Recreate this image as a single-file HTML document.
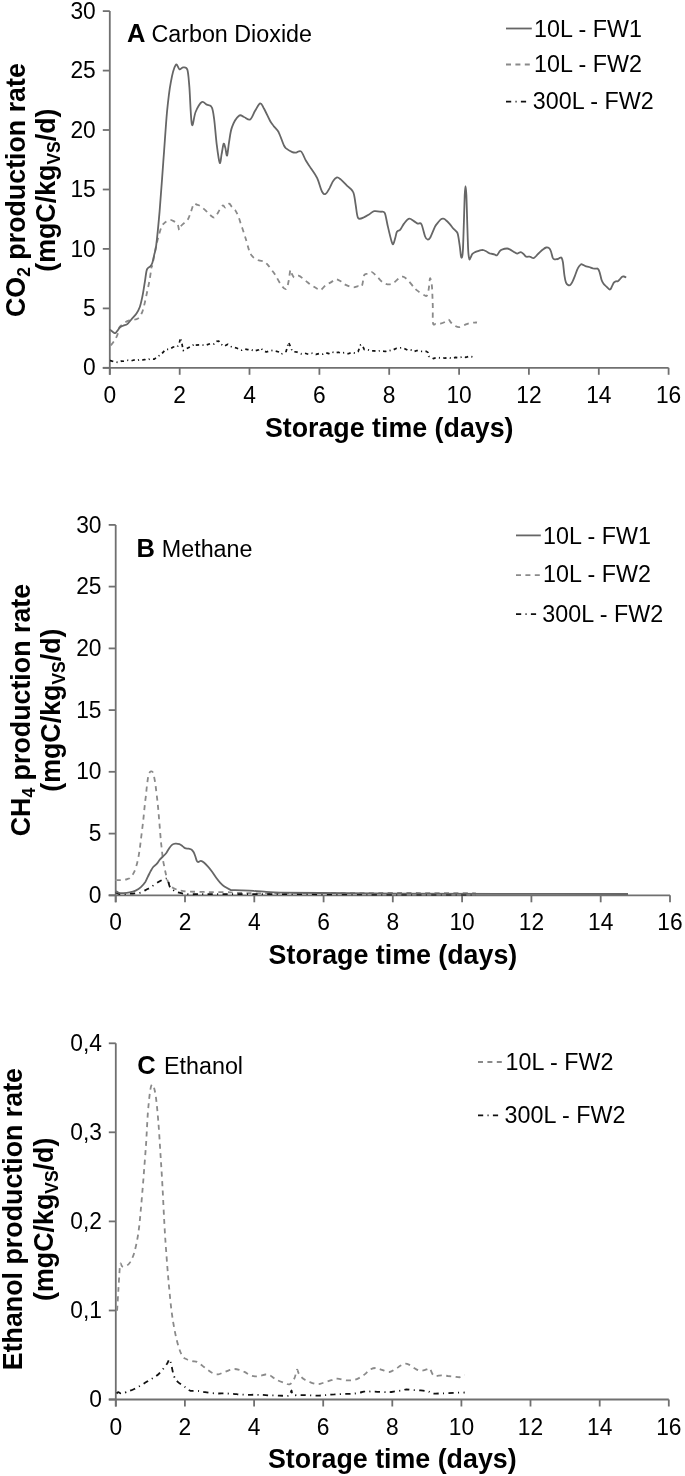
<!DOCTYPE html>
<html><head><meta charset="utf-8"><style>
html,body{margin:0;padding:0;background:#fff;}
svg{display:block;filter:grayscale(1);}
text{font-family:"Liberation Sans", sans-serif;}
</style></head><body>
<svg width="685" height="1476" viewBox="0 0 685 1476">
<g stroke="#707070" stroke-width="1.8" fill="none">
<path d="M109.8,11.1 V374.8"/>
<path d="M102.8,367.8 H668.6"/>
<path d="M102.8,367.8 H109.8"/>
<path d="M102.8,308.4 H109.8"/>
<path d="M102.8,248.9 H109.8"/>
<path d="M102.8,189.5 H109.8"/>
<path d="M102.8,130 H109.8"/>
<path d="M102.8,70.6 H109.8"/>
<path d="M102.8,11.1 H109.8"/>
<path d="M109.8,367.8 V374.8"/>
<path d="M179.7,367.8 V374.8"/>
<path d="M249.5,367.8 V374.8"/>
<path d="M319.4,367.8 V374.8"/>
<path d="M389.2,367.8 V374.8"/>
<path d="M459.1,367.8 V374.8"/>
<path d="M528.9,367.8 V374.8"/>
<path d="M598.8,367.8 V374.8"/>
<path d="M668.6,367.8 V374.8"/>
</g>
<text transform="translate(95.8,375.4) scale(1,1.08)" font-size="22.8" text-anchor="end" fill="#000000">0</text>
<text transform="translate(95.8,316) scale(1,1.08)" font-size="22.8" text-anchor="end" fill="#000000">5</text>
<text transform="translate(95.8,256.5) scale(1,1.08)" font-size="22.8" text-anchor="end" fill="#000000">10</text>
<text transform="translate(95.8,197.1) scale(1,1.08)" font-size="22.8" text-anchor="end" fill="#000000">15</text>
<text transform="translate(95.8,137.6) scale(1,1.08)" font-size="22.8" text-anchor="end" fill="#000000">20</text>
<text transform="translate(95.8,78.2) scale(1,1.08)" font-size="22.8" text-anchor="end" fill="#000000">25</text>
<text transform="translate(95.8,18.7) scale(1,1.08)" font-size="22.8" text-anchor="end" fill="#000000">30</text>
<text transform="translate(109.8,403.2) scale(1,1.08)" font-size="22.8" text-anchor="middle" fill="#000000">0</text>
<text transform="translate(179.7,403.2) scale(1,1.08)" font-size="22.8" text-anchor="middle" fill="#000000">2</text>
<text transform="translate(249.5,403.2) scale(1,1.08)" font-size="22.8" text-anchor="middle" fill="#000000">4</text>
<text transform="translate(319.4,403.2) scale(1,1.08)" font-size="22.8" text-anchor="middle" fill="#000000">6</text>
<text transform="translate(389.2,403.2) scale(1,1.08)" font-size="22.8" text-anchor="middle" fill="#000000">8</text>
<text transform="translate(459.1,403.2) scale(1,1.08)" font-size="22.8" text-anchor="middle" fill="#000000">10</text>
<text transform="translate(528.9,403.2) scale(1,1.08)" font-size="22.8" text-anchor="middle" fill="#000000">12</text>
<text transform="translate(598.8,403.2) scale(1,1.08)" font-size="22.8" text-anchor="middle" fill="#000000">14</text>
<text transform="translate(668.6,403.2) scale(1,1.08)" font-size="22.8" text-anchor="middle" fill="#000000">16</text>
<text transform="translate(389.2,436.9) scale(1,1.01)" font-size="26.8" text-anchor="middle" font-weight="bold" fill="#000000">Storage time (days)</text>
<text transform="translate(127,41.6) scale(1,1.04)" font-weight="bold" font-size="25.5" fill="#000000">A</text>
<text transform="translate(151.4,41.6) scale(1,1.0)" font-size="23.3" fill="#000000">Carbon Dioxide</text>
<g transform="translate(25.1,190.1) rotate(-90) scale(1,1.0)" font-weight="bold" font-size="26.8" fill="#000000">
<text x="0" y="0" text-anchor="middle">CO<tspan font-size="17.5" dy="5">2</tspan><tspan dy="-5"> production rate</tspan></text>
<text x="0" y="29.9" text-anchor="middle">(mgC/kg<tspan font-size="17.5" dy="5">VS</tspan><tspan dy="-5">/d)</tspan></text>
</g>
<path d="M506,28.5 H531.8" stroke="#666666" stroke-width="1.8" fill="none"/>
<text transform="translate(534,36.5) scale(1,1.05)" font-size="23.3" fill="#000000">10L - FW1</text>
<path d="M506,64.5 H531.5" stroke="#8a8a8a" stroke-width="1.8" fill="none" stroke-dasharray="5,4.4"/>
<text transform="translate(534,72.4) scale(1,1.05)" font-size="23.3" fill="#000000">10L - FW2</text>
<path d="M506,101.7 H527.5" stroke="#111111" stroke-width="1.8" fill="none" stroke-dasharray="5.2,4.3,1.1,4.3"/>
<text transform="translate(532.8,108.9) scale(1,1.05)" font-size="23.3" fill="#000000">300L - FW2</text>
<g stroke="#707070" stroke-width="1.8" fill="none">
<path d="M115.7,524.9 V902.3"/>
<path d="M108.7,895.3 H670"/>
<path d="M108.7,895.3 H115.7"/>
<path d="M108.7,833.6 H115.7"/>
<path d="M108.7,771.8 H115.7"/>
<path d="M108.7,710.1 H115.7"/>
<path d="M108.7,648.4 H115.7"/>
<path d="M108.7,586.6 H115.7"/>
<path d="M108.7,524.9 H115.7"/>
<path d="M115.7,895.3 V902.3"/>
<path d="M185,895.3 V902.3"/>
<path d="M254.3,895.3 V902.3"/>
<path d="M323.6,895.3 V902.3"/>
<path d="M392.8,895.3 V902.3"/>
<path d="M462.1,895.3 V902.3"/>
<path d="M531.4,895.3 V902.3"/>
<path d="M600.7,895.3 V902.3"/>
<path d="M670,895.3 V902.3"/>
</g>
<text transform="translate(101.5,902.9) scale(1,1.08)" font-size="22.8" text-anchor="end" fill="#000000">0</text>
<text transform="translate(101.5,841.2) scale(1,1.08)" font-size="22.8" text-anchor="end" fill="#000000">5</text>
<text transform="translate(101.5,779.4) scale(1,1.08)" font-size="22.8" text-anchor="end" fill="#000000">10</text>
<text transform="translate(101.5,717.7) scale(1,1.08)" font-size="22.8" text-anchor="end" fill="#000000">15</text>
<text transform="translate(101.5,656) scale(1,1.08)" font-size="22.8" text-anchor="end" fill="#000000">20</text>
<text transform="translate(101.5,594.2) scale(1,1.08)" font-size="22.8" text-anchor="end" fill="#000000">25</text>
<text transform="translate(101.5,532.5) scale(1,1.08)" font-size="22.8" text-anchor="end" fill="#000000">30</text>
<text transform="translate(115.7,929.9) scale(1,1.08)" font-size="22.8" text-anchor="middle" fill="#000000">0</text>
<text transform="translate(185,929.9) scale(1,1.08)" font-size="22.8" text-anchor="middle" fill="#000000">2</text>
<text transform="translate(254.3,929.9) scale(1,1.08)" font-size="22.8" text-anchor="middle" fill="#000000">4</text>
<text transform="translate(323.6,929.9) scale(1,1.08)" font-size="22.8" text-anchor="middle" fill="#000000">6</text>
<text transform="translate(392.8,929.9) scale(1,1.08)" font-size="22.8" text-anchor="middle" fill="#000000">8</text>
<text transform="translate(462.1,929.9) scale(1,1.08)" font-size="22.8" text-anchor="middle" fill="#000000">10</text>
<text transform="translate(531.4,929.9) scale(1,1.08)" font-size="22.8" text-anchor="middle" fill="#000000">12</text>
<text transform="translate(600.7,929.9) scale(1,1.08)" font-size="22.8" text-anchor="middle" fill="#000000">14</text>
<text transform="translate(670,929.9) scale(1,1.08)" font-size="22.8" text-anchor="middle" fill="#000000">16</text>
<text transform="translate(392.9,963.6) scale(1,1.01)" font-size="26.8" text-anchor="middle" font-weight="bold" fill="#000000">Storage time (days)</text>
<text transform="translate(136.5,557.1) scale(1,1.04)" font-weight="bold" font-size="25.5" fill="#000000">B</text>
<text transform="translate(161.8,557.1) scale(1,1.0)" font-size="23.3" fill="#000000">Methane</text>
<g transform="translate(30.1,710.1) rotate(-90) scale(1,1.0)" font-weight="bold" font-size="26.8" fill="#000000">
<text x="0" y="0" text-anchor="middle">CH<tspan font-size="17.5" dy="5">4</tspan><tspan dy="-5"> production rate</tspan></text>
<text x="0" y="29.9" text-anchor="middle">(mgC/kg<tspan font-size="17.5" dy="5">VS</tspan><tspan dy="-5">/d)</tspan></text>
</g>
<path d="M516,535.4 H540.8" stroke="#666666" stroke-width="1.8" fill="none"/>
<text transform="translate(543,543.5) scale(1,1.05)" font-size="23.3" fill="#000000">10L - FW1</text>
<path d="M516,575.2 H540.8" stroke="#8a8a8a" stroke-width="1.8" fill="none" stroke-dasharray="5,4.4"/>
<text transform="translate(543,582.4) scale(1,1.05)" font-size="23.3" fill="#000000">10L - FW2</text>
<path d="M516,614.2 H537" stroke="#111111" stroke-width="1.8" fill="none" stroke-dasharray="5.2,4.3,1.1,4.3"/>
<text transform="translate(542.3,621.9) scale(1,1.05)" font-size="23.3" fill="#000000">300L - FW2</text>
<g stroke="#707070" stroke-width="1.8" fill="none">
<path d="M115.8,1043.3 V1406.5"/>
<path d="M108.8,1399.5 H668.8"/>
<path d="M108.8,1399.5 H115.8"/>
<path d="M108.8,1310.5 H115.8"/>
<path d="M108.8,1221.4 H115.8"/>
<path d="M108.8,1132.3 H115.8"/>
<path d="M108.8,1043.3 H115.8"/>
<path d="M115.8,1399.5 V1406.5"/>
<path d="M184.9,1399.5 V1406.5"/>
<path d="M254.1,1399.5 V1406.5"/>
<path d="M323.2,1399.5 V1406.5"/>
<path d="M392.3,1399.5 V1406.5"/>
<path d="M461.4,1399.5 V1406.5"/>
<path d="M530.5,1399.5 V1406.5"/>
<path d="M599.7,1399.5 V1406.5"/>
<path d="M668.8,1399.5 V1406.5"/>
</g>
<text transform="translate(102,1407.1) scale(1,1.08)" font-size="22.8" text-anchor="end" fill="#000000">0</text>
<text transform="translate(102,1318) scale(1,1.08)" font-size="22.8" text-anchor="end" fill="#000000">0,1</text>
<text transform="translate(102,1229) scale(1,1.08)" font-size="22.8" text-anchor="end" fill="#000000">0,2</text>
<text transform="translate(102,1139.9) scale(1,1.08)" font-size="22.8" text-anchor="end" fill="#000000">0,3</text>
<text transform="translate(102,1050.9) scale(1,1.08)" font-size="22.8" text-anchor="end" fill="#000000">0,4</text>
<text transform="translate(115.8,1434.7) scale(1,1.08)" font-size="22.8" text-anchor="middle" fill="#000000">0</text>
<text transform="translate(184.9,1434.7) scale(1,1.08)" font-size="22.8" text-anchor="middle" fill="#000000">2</text>
<text transform="translate(254.1,1434.7) scale(1,1.08)" font-size="22.8" text-anchor="middle" fill="#000000">4</text>
<text transform="translate(323.2,1434.7) scale(1,1.08)" font-size="22.8" text-anchor="middle" fill="#000000">6</text>
<text transform="translate(392.3,1434.7) scale(1,1.08)" font-size="22.8" text-anchor="middle" fill="#000000">8</text>
<text transform="translate(461.4,1434.7) scale(1,1.08)" font-size="22.8" text-anchor="middle" fill="#000000">10</text>
<text transform="translate(530.5,1434.7) scale(1,1.08)" font-size="22.8" text-anchor="middle" fill="#000000">12</text>
<text transform="translate(599.7,1434.7) scale(1,1.08)" font-size="22.8" text-anchor="middle" fill="#000000">14</text>
<text transform="translate(668.8,1434.7) scale(1,1.08)" font-size="22.8" text-anchor="middle" fill="#000000">16</text>
<text transform="translate(392.3,1468) scale(1,1.01)" font-size="26.8" text-anchor="middle" font-weight="bold" fill="#000000">Storage time (days)</text>
<text transform="translate(137.2,1073.8) scale(1,1.04)" font-weight="bold" font-size="25.5" fill="#000000">C</text>
<text transform="translate(164,1073.8) scale(1,1.0)" font-size="23.3" fill="#000000">Ethanol</text>
<g transform="translate(21.8,1219.1) rotate(-90) scale(1,1.0)" font-weight="bold" font-size="26.8" fill="#000000">
<text x="0" y="0" text-anchor="middle">Ethanol production rate</text>
<text x="-0.2" y="31.2" text-anchor="middle">(mgC/kg<tspan font-size="17.5" dy="5">VS</tspan><tspan dy="-5">/d)</tspan></text>
</g>
<path d="M478,1062 H503" stroke="#8a8a8a" stroke-width="1.8" fill="none" stroke-dasharray="5,4.4"/>
<text transform="translate(505.6,1069.8) scale(1,1.05)" font-size="23.3" fill="#000000">10L - FW2</text>
<path d="M478,1115.3 H499" stroke="#111111" stroke-width="1.8" fill="none" stroke-dasharray="5.2,4.3,1.1,4.3"/>
<text transform="translate(504.6,1122.8) scale(1,1.05)" font-size="23.3" fill="#000000">300L - FW2</text>
<path d="M110.5,345.3 C110.6,345.1 110.9,345.3 111.6,344.4 C112.3,343.5 113.9,341.4 114.9,339.8 C115.9,338.2 116.7,336.7 117.5,334.6 C118.3,332.5 118.3,329.3 119.5,327.3 C120.7,325.3 123.1,323.9 124.7,322.7 C126.3,321.5 127.6,320.9 129.3,320.4 C131.1,319.9 133.5,320 135.2,319.5 C136.8,319 138,318.8 139.2,317.5 C140.4,316.2 141.5,313.8 142.4,311.6 C143.3,309.4 143.6,307.6 144.4,304.4 C145.2,301.2 146.1,296.7 147,292.5 C147.9,288.3 148.9,283.8 149.7,279.4 C150.5,275 151.2,268.6 151.6,266.3 C152,264.1 151.7,267.9 152.2,265.9 C152.7,263.9 153.7,257.8 154.4,254.2 C155.1,250.5 155.9,247.2 156.6,244 C157.3,240.8 158,238.2 158.8,235.3 C159.7,232.4 160.7,228.6 161.7,226.5 C162.7,224.4 163.3,223.9 164.6,222.8 C165.9,221.7 168.1,220.1 169.7,219.9 C171.3,219.7 172.8,220.7 174.1,221.4 C175.4,222.1 176.8,222.9 177.7,224.3 C178.5,225.8 178.7,229.7 179.2,230.1 C179.7,230.5 179.8,227.7 180.7,226.5 C181.5,225.3 183.1,224 184.3,222.8 C185.5,221.6 186.9,221 188,219.2 C189.1,217.4 189.9,214.4 190.9,211.9 C191.9,209.4 192.8,205.1 193.8,203.9 C194.8,202.7 195.6,204.2 196.7,204.6 C197.8,205 198.9,205.1 200.4,206.1 C201.9,207.1 203.9,208.9 205.5,210.4 C207.1,211.9 208.5,213.6 209.9,214.8 C211.3,216 213,217.8 214.2,217.7 C215.4,217.6 216.2,215.5 217.2,214.1 C218.2,212.7 219.1,210.5 220.1,209 C221.1,207.5 222.2,205.6 223,205.3 C223.8,205.1 224.5,207.6 225.2,207.5 C225.9,207.4 226.7,205.2 227.4,204.6 C228.1,204 228.9,203.5 229.6,203.9 C230.3,204.3 230.8,205.7 231.8,206.8 C232.8,207.9 234.3,208.8 235.4,210.4 C236.5,212 237.3,213.9 238.3,216.3 C239.3,218.7 240.2,222.1 241.2,225 C242.2,227.9 243.3,231.1 244.2,233.8 C245.1,236.5 245.7,238.7 246.4,241.1 C247.1,243.5 247.9,246.4 248.5,248.4 C249.1,250.4 249.7,252 250,252.8 C250.3,253.6 249.5,252.6 250.2,253.5 C250.8,254.3 252.5,256.8 253.9,257.9 C255.4,259.1 257.2,259.8 258.9,260.4 C260.5,261 262.4,260.7 263.8,261.4 C265.3,262.1 266.3,263.3 267.6,264.6 C268.8,266 270,267.9 271.3,269.6 C272.5,271.2 273.4,272 275,274.5 C276.6,277.1 279.3,282.5 281.2,284.9 C283,287.4 284.9,289.8 286.1,289.1 C287.4,288.5 287.9,284.4 288.6,281.2 C289.3,278 289.8,271.3 290.4,270 C290.9,268.8 291.2,272.5 291.8,273.8 C292.5,275 293.2,277.2 294.3,277.5 C295.4,277.8 296.8,275.3 298.5,275.7 C300.3,276.2 302.7,278.4 304.7,280 C306.8,281.5 308.9,283.5 310.9,284.9 C313,286.4 315.5,287.8 317.2,288.7 C318.8,289.5 319.4,290.5 320.9,289.9 C322.3,289.3 324.2,286.2 325.8,284.9 C327.5,283.7 329.1,283.4 330.8,282.4 C332.5,281.5 334.1,279.4 335.8,279.2 C337.4,279 339.1,280.3 340.7,281.2 C342.4,282.2 343.6,283.9 345.7,284.9 C347.8,286 351.1,287.2 353.1,287.4 C355.2,287.6 356.7,286.4 358.1,286.2 C359.5,286 360.8,288 361.8,286.2 C362.9,284.3 363.3,277.1 364.3,275 C365.3,272.9 366.8,274.3 368,273.8 C369.3,273.3 370.3,271.6 371.8,272 C373.2,272.4 374.9,274.5 376.7,276.2 C378.6,278 380.9,281.1 382.9,282.4 C385,283.8 387.3,284.4 389.1,284.4 C391,284.4 392.4,283.5 394.1,282.4 C395.7,281.4 397.6,279.2 399.1,278.2 C400.5,277.3 401.3,276.4 402.8,276.7 C404.2,277 405.9,278.2 407.7,280 C409.6,281.7 412.4,285.7 413.9,287.4 C415.5,289.2 415.3,289.1 417,290.4 C418.7,291.7 422.4,294.1 424,295 C425.6,295.9 426.1,296.6 426.9,295.6 C427.7,294.6 428.2,292 428.7,289.2 C429.2,286.4 429.5,280.1 429.9,278.7 C430.3,277.3 430.6,279.6 431,281 C431.4,282.4 431.8,284.6 432,286.9 C432.2,289.2 432.3,291.7 432.4,295 C432.5,298.3 432.7,302 432.8,306.7 C432.9,311.4 432.5,320.2 433,323.1 C433.5,326 434.5,323.9 435.7,324 C436.9,324.1 438.8,324.1 440.4,323.7 C441.9,323.3 443.6,322.6 445,321.9 C446.4,321.2 447.5,319.5 448.5,319.6 C449.5,319.7 449.9,321.5 450.9,322.5 C451.9,323.5 453,324.6 454.4,325.4 C455.8,326.2 457.4,327.3 459.1,327.2 C460.9,327.1 463.1,325.5 464.9,324.8 C466.6,324.1 467.8,323.5 469.6,323.1 C471.5,322.7 474.8,322.6 476,322.5 C477.2,322.4 476.8,322.7 477,322.7" stroke="#8a8a8a" stroke-width="1.8" fill="none" stroke-dasharray="5,4.4"/>
<path d="M110,360.6 L110.3,360.6 L114.2,361.8 L118.1,362.4 L121.4,361.1 L124.7,361.3 L128,360.3 L131.3,360.8 L133.9,360 L136.6,360.6 L139.2,359.8 L141.8,360.2 L144.4,359.5 L147.1,360.1 L149.7,358.9 L154.3,359.2 L157.6,356.6 L161.5,354.1 L165.4,349.6 L169.4,349.2 L173.3,347 L177.3,346.8 L179.2,343.6 L180.5,337.8 L181.9,343.4 L183.2,350.6 L186.5,348.7 L190.4,346.8 L195,343.8 L195.6,345.1 L200.5,344.8 L205.5,345.3 L210.5,343.6 L214.2,344 L216.7,341.3 L218.7,341 L220.4,343.7 L224.1,346.3 L227.8,344.3 L231.6,346.9 L236.5,348 L241.5,350.2 L244.6,349 L247.7,349.6 L250.8,349.3 L253.9,351.1 L258.9,349.7 L260.9,348.2 L262.6,350.1 L266.3,352 L271.3,350.4 L275,350.9 L278.1,351.7 L281.2,354.1 L286.1,351.4 L288.6,342.3 L289.9,345.3 L292.3,351.4 L297.3,352.2 L301,353.8 L304.7,353.2 L308.5,354.3 L312.2,353.3 L315.9,354.4 L319.6,353.4 L322.7,354.1 L325.8,352.8 L328.9,353.6 L332,352 L335.1,353.1 L338.2,352.2 L341.4,353.2 L344.5,352.6 L348.2,353.7 L351.9,352.5 L355,353.2 L358.1,351.6 L360.6,344.9 L362.3,345.2 L364.3,349.7 L368,349.8 L371.1,351 L374.2,350.9 L377.3,351.4 L380.4,350.6 L385.4,351.5 L388.5,350.4 L391.6,350.6 L396.6,348.3 L401.5,347.7 L405.3,349 L408.4,350.6 L411.5,350.1 L414.2,351.5 L417,350.5 L421.7,351.4 L426.4,351.3 L428.1,352.7 L428.7,356.3 L433.4,358.6 L436.3,357.4 L439.2,357.8 L442.1,357.4 L445,358.2 L448.5,357.5 L452,358.4 L455.5,357.4 L459,357.7 L462.6,356.8 L466.1,357.3 L469.6,356.2 L473.1,357.1 L474.8,356.7" stroke="#111111" stroke-width="1.7" fill="none" stroke-dasharray="3.4,3.3,1.1,3.3" stroke-linejoin="round"/>
<path d="M110,330.4 C110,330.3 109.8,329.7 110.3,330 C110.8,330.3 112.1,331.4 112.9,331.9 C113.7,332.4 114.4,333.4 115.2,333.2 C116,333 116.7,331.6 117.5,330.6 C118.3,329.6 119.1,328.1 120.1,327.3 C121.1,326.5 122.2,326.1 123.4,325.6 C124.6,325.1 126,325.1 127.3,324.1 C128.6,323.1 129.8,321.3 131.3,319.5 C132.8,317.7 135.1,315.6 136.5,313.5 C137.9,311.4 138.8,309.8 139.8,307 C140.8,304.2 141.6,300.2 142.4,296.5 C143.2,292.8 143.7,288.9 144.4,284.7 C145.1,280.5 145.9,274.2 146.4,271.5 C146.9,268.8 147,269.1 147.7,268.2 C148.3,267.3 149.5,267.2 150.3,266.3 C151.1,265.4 151.6,265 152.3,263 C153,261 153.7,257.4 154.3,254.4 C155,251.5 155.3,252.5 156.2,245.3 C157.1,238.1 158.4,225.2 159.6,211.3 C160.8,197.3 162.1,178.2 163.3,161.7 C164.6,145.1 165.8,125.3 167,112 C168.3,98.8 169.3,90.1 170.8,82.3 C172.2,74.4 174.3,67 175.7,64.9 C177.2,62.7 178.2,68.9 179.5,69.4 C180.7,69.8 181.9,67.3 183.2,67.4 C184.5,67.5 186.4,66.5 187.4,69.8 C188.4,73.2 188.6,78.1 189.4,87.2 C190.1,96.3 190.8,120.3 191.9,124.4 C192.9,128.6 193.9,115.8 195.6,112 C197.2,108.3 199.9,103.3 201.8,102.1 C203.6,100.9 205.1,103.8 206.8,104.6 C208.4,105.4 210.5,104.6 211.7,107.1 C213,109.5 213.4,113.3 214.2,119.5 C215,125.7 215.8,137 216.7,144.3 C217.6,151.5 218.8,161.2 219.7,162.9 C220.5,164.5 221,157.4 221.6,154.2 C222.3,151 223,144.8 223.6,143.8 C224.2,142.8 224.8,146.1 225.4,148 C225.9,150 226.5,156.5 227.1,155.5 C227.7,154.4 228.3,146.6 229.1,141.8 C229.9,137 230.4,131.3 232.1,126.9 C233.7,122.6 237,117.4 239,115.8 C241,114.1 242.1,116.4 244,117 C245.8,117.6 248.3,120.5 250.2,119.5 C252,118.4 253.5,113.5 255.1,110.8 C256.8,108.1 258.7,103.8 260.1,103.3 C261.6,102.9 262.2,105.4 263.8,108.3 C265.5,111.2 268.4,117.8 270,120.7 C271.7,123.7 272.3,124.1 273.7,126.1 C275.2,128 277,129.2 278.7,132.3 C280.3,135.4 282.4,142 283.6,144.7 C284.9,147.4 284.7,147.2 286.1,148.4 C287.6,149.6 290.7,151.4 292.3,152.1 C294,152.8 294.6,152.7 296.1,152.6 C297.5,152.5 299.4,150 301,151.4 C302.7,152.7 304.3,158 306,160.8 C307.6,163.6 309.1,165.4 310.9,168.3 C312.8,171.2 315.3,174.3 317.2,178.2 C319,182.1 320.7,189.2 322.1,191.8 C323.6,194.5 324.6,194.5 325.8,193.8 C327.1,193.2 328.3,190.3 329.6,188.1 C330.8,185.9 332,182.5 333.3,180.7 C334.5,178.9 335.8,177.7 337,177.4 C338.2,177.2 339.1,178.1 340.7,179.4 C342.4,180.8 344.9,183.6 346.9,185.6 C349,187.7 351.7,188.7 353.1,191.8 C354.6,194.9 354.8,199.9 355.6,204.3 C356.4,208.6 356.7,215.8 358.1,217.9 C359.5,220.1 362.4,217.8 364.3,217.2 C366.2,216.5 367.6,215.2 369.3,214.2 C370.9,213.2 372.4,211.6 374.2,211.2 C376.1,210.8 378.7,211.4 380.4,211.7 C382.2,212 383.4,210.5 384.7,212.9 C385.9,215.4 386.7,221.8 387.9,226.6 C389,231.4 390.7,238.6 391.6,241.5 C392.5,244.4 392.7,244.6 393.3,244 C394,243.4 394.7,239.8 395.3,237.8 C395.9,235.7 396.2,232.9 397.1,231.6 C397.9,230.2 399.1,230.9 400.3,229.6 C401.5,228.3 402.6,225.4 404,223.6 C405.5,221.8 407.3,219.1 409,218.7 C410.6,218.2 412.5,220.3 413.9,221.1 C415.4,222 416.4,223.1 417.7,223.6 C418.9,224.1 420.1,222 421.4,224.1 C422.6,226.3 424.1,234 425.1,236.5 C426.1,239.1 426.8,239.3 427.6,239.5 C428.4,239.7 428.8,239.9 430.1,237.8 C431.3,235.6 433.8,229.1 435,226.6 C436.3,224.1 436.8,224.1 437.7,222.9 C438.6,221.7 439.6,220.3 440.5,219.6 C441.4,218.9 442.3,218.6 443.2,218.7 C444.1,218.8 444.9,219.3 445.9,220.2 C447,221 448.4,222.5 449.6,223.8 C450.8,225.2 452.2,227.2 453.2,228.4 C454.3,229.6 455.2,230.2 456,231.1 C456.7,232 457.2,231.6 457.8,233.9 C458.4,236.1 459.1,241.2 459.6,244.8 C460.2,248.5 460.5,253.7 460.9,255.8 C461.3,257.8 461.7,258.1 462,257.2 C462.3,256.3 462.6,255.7 462.9,250.3 C463.2,244.9 463.5,233.9 463.8,224.7 C464.1,215.6 464.5,202 464.7,195.5 C465,189.1 465.2,186.1 465.5,186.1 C465.7,186.1 466.1,189.1 466.4,195.5 C466.7,202 467,215.6 467.3,224.7 C467.6,233.9 467.9,244.6 468.2,250.3 C468.5,256 468.9,257.8 469.3,259 C469.7,260.3 470.1,258.4 470.6,257.6 C471.1,256.7 471.6,254.8 472.4,253.9 C473.2,253 474.1,252.6 475.1,252.1 C476.2,251.6 477.6,251.2 478.8,250.8 C480,250.5 481.2,249.9 482.4,249.9 C483.7,250 484.9,250.6 486.1,251.2 C487.3,251.8 488.4,252.9 489.7,253.4 C491.1,253.9 493.1,254 494.3,254.3 C495.5,254.6 496.1,255.7 497,255.2 C498,254.7 498.9,252.2 499.8,251.2 C500.7,250.2 501.3,249.8 502.5,249.4 C503.7,248.9 505.9,248.5 507.1,248.5 C508.3,248.5 508.8,248.8 509.8,249.4 C510.9,249.9 512.3,251 513.5,251.7 C514.7,252.4 515.9,253.5 517.1,253.6 C518.3,253.6 519.7,252 520.8,252.1 C521.8,252.2 522.6,253.2 523.5,253.9 C524.4,254.7 525.2,256.2 526.2,256.7 C527.3,257.1 528.7,256.4 529.9,256.7 C531.1,256.9 532.5,258.3 533.5,258.1 C534.6,258 535.2,256.8 536.3,255.8 C537.3,254.7 538.7,253.2 539.9,252.1 C541.1,251 542.5,249.8 543.6,249 C544.6,248.2 545.4,247.7 546.3,247.5 C547.2,247.4 548.3,247.5 549.1,248.1 C549.8,248.7 550.3,249.6 550.9,251.2 C551.5,252.8 552.1,256.2 552.7,257.6 C553.3,258.9 553.8,259.2 554.5,259.4 C555.3,259.6 556.7,259.1 557.3,259 C557.8,259 557.4,259.4 557.8,259.2 C558.3,259.1 559.1,258.1 559.7,257.9 C560.4,257.7 561.1,257.1 561.6,257.9 C562.2,258.7 562.5,259.7 563,262.7 C563.4,265.7 564,272.6 564.5,275.9 C565,279.3 565.4,281.1 566,282.6 C566.6,284.1 567.6,284.7 568.3,285.1 C569,285.5 569.5,285.6 570.2,285.1 C570.9,284.5 571.7,283.2 572.5,281.6 C573.3,280.1 574,278.2 574.9,275.9 C575.8,273.7 576.8,270.3 577.8,268.4 C578.7,266.5 579.8,265.2 580.6,264.6 C581.4,263.9 581.7,264.3 582.5,264.6 C583.3,264.8 584.3,265.7 585.4,266.1 C586.5,266.5 587.9,266.6 589.2,267 C590.4,267.4 591.8,268.1 593,268.4 C594.1,268.6 595,268.7 595.8,268.7 C596.6,268.8 597.1,268.2 597.7,268.7 C598.3,269.3 599,270.3 599.6,272.2 C600.2,274 600.9,277.8 601.5,279.7 C602.1,281.6 602.6,282.4 603.4,283.5 C604.2,284.7 605.3,285.4 606.2,286.4 C607.2,287.3 608.4,288.8 609.1,289.2 C609.8,289.7 609.9,289.7 610.4,289.2 C610.9,288.8 611.4,287.5 611.9,286.4 C612.5,285.3 613.2,283.4 613.8,282.6 C614.5,281.7 615.1,281.5 615.7,281.3 C616.4,281 617,281.5 617.6,281.3 C618.3,281 618.8,280.5 619.5,279.7 C620.2,279 621.1,277.4 621.8,276.9 C622.5,276.4 623,276.4 623.7,276.5 C624.4,276.6 625.8,277.3 626.2,277.5" stroke="#666666" stroke-width="1.8" fill="none"/>
<path d="M116.2,880.2 C116.2,880.2 115.6,880.1 116.4,880.1 C117.2,880.1 119.3,880.2 120.8,880.1 C122.2,880 123.9,879.9 125.1,879.7 C126.3,879.5 127,879.1 127.8,878.8 C128.6,878.5 128.9,879 130,877.9 C131.1,876.8 132.9,874.8 134.1,872.2 C135.3,869.6 136.4,865.8 137.3,862.4 C138.2,859 138.8,855.3 139.3,851.9 C139.9,848.5 140.2,845.4 140.6,842.1 C141,838.9 141.4,835.6 141.8,832.4 C142.2,829.1 142.6,825.9 143,822.6 C143.4,819.3 143.7,816 144,812.8 C144.3,809.5 144.7,806.2 145,803.1 C145.3,800 145.8,797.2 146.1,794.1 C146.4,791 146.7,787.4 147.1,784.4 C147.5,781.4 147.9,777.9 148.3,775.9 C148.7,773.9 149.1,773.4 149.5,772.6 C149.9,771.9 150.5,771.5 151,771.4 C151.5,771.3 152,771.3 152.4,771.8 C152.8,772.3 153.1,772.8 153.6,774.6 C154.1,776.4 154.7,779.8 155.2,782.8 C155.7,785.8 156,789.2 156.4,792.5 C156.8,795.8 157.2,799 157.6,802.3 C157.9,805.5 158.2,808.8 158.5,812 C158.8,815.2 159,818.5 159.3,821.8 C159.6,825 159.8,828.2 160.1,831.5 C160.4,834.8 160.6,838.2 160.9,841.3 C161.2,844.4 161.6,847.2 161.9,850.2 C162.2,853.2 162.5,856.2 162.9,859.2 C163.3,862.2 164.1,865.4 164.6,868.1 C165.1,870.8 165.7,873.4 166.2,875.4 C166.7,877.4 167.2,879.1 167.4,880 C167.7,880.9 167.3,880.1 167.7,880.9 C168.1,881.7 168.8,883.8 169.7,885 C170.6,886.2 171.9,887.1 173.3,888 C174.8,888.9 176.7,889.6 178.4,890.1 C180.1,890.6 181.4,890.9 183.5,891.1 C185.6,891.4 187.8,891.5 190.7,891.6 C193.6,891.7 197.5,891.8 200.9,891.9 C204.3,892 206.2,892 211.1,892.1 C215.9,892.2 226.2,892.2 230,892.3 C233.8,892.4 231.3,892.7 234.1,892.8 C236.8,893 242.4,893 246.5,893.1 C250.6,893.2 253.3,893.3 258.9,893.3 C264.5,893.4 256.5,893.4 280,893.3 C303.5,893.3 367.3,893 400,893 C432.7,893 463.3,893.2 476,893.3" stroke="#8a8a8a" stroke-width="1.8" fill="none" stroke-dasharray="5,4.4"/>
<path d="M116.2,891.9 C116.2,892 115.8,892.4 116.4,892.8 C117,893.2 118.5,894 119.9,894.2 C121.4,894.4 123.5,894.3 125.1,894.2 C126.7,894.1 127.9,893.9 129.5,893.7 C131.1,893.6 132.9,893.5 134.8,893.3 C136.7,893.1 138.9,893.1 140.9,892.4 C142.9,891.7 145.5,890 147,889.3 C148.5,888.6 148.5,888.7 149.7,888 C150.9,887.3 152.4,886.1 154,885 C155.6,883.9 157.8,882.4 159.3,881.5 C160.8,880.6 161.6,880.2 162.8,879.7 C164,879.2 165.6,878.6 166.5,878.6 C167.4,878.6 167.5,878.7 168,880 C168.5,881.3 168.8,884.8 169.7,886.5 C170.6,888.2 172,889.1 173.3,890.1 C174.6,891.1 175.7,891.7 177.4,892.3 C179.1,892.9 181.3,893.3 183.5,893.6 C185.7,893.9 186.4,894.1 190.7,894.2 C195,894.3 194.4,894.1 209.3,894.1 C224.2,894.1 248.2,894 280,894.1 C311.8,894.2 367.3,894.5 400,894.6 C432.7,894.7 463.3,894.6 476,894.6" stroke="#111111" stroke-width="1.8" fill="none" stroke-dasharray="5.2,4.3,1.1,4.3"/>
<path d="M116.2,893.3 C116.2,893 115.9,891.6 116.4,891.5 C116.9,891.4 117.8,892.5 119,892.8 C120.2,893.1 121.7,893.2 123.4,893.1 C125.2,893 127.5,892.8 129.5,892.4 C131.5,892 133.7,891.5 135.6,890.6 C137.5,889.7 139.3,888.6 140.9,887.1 C142.5,885.6 144.1,883.6 145.3,881.9 C146.5,880.1 147,878.4 147.9,876.6 C148.8,874.9 149.6,873 150.5,871.4 C151.4,869.8 152.2,868.2 153.2,867 C154.2,865.8 155.6,865.2 156.7,863.9 C157.8,862.6 158.9,860.7 160,859.4 C161.1,858.1 162.1,857.3 163.1,856.3 C164.1,855.3 165.1,854.6 166.1,853.3 C167.1,851.9 168.2,849.7 169.2,848.2 C170.2,846.8 171.3,845.4 172.3,844.6 C173.3,843.8 174.1,843.7 175.3,843.6 C176.5,843.5 178.2,843.7 179.4,844.1 C180.6,844.5 181.6,845.4 182.5,846.1 C183.4,846.8 184,847.8 185,848.2 C186,848.6 187.5,848.5 188.6,848.7 C189.7,849 190.8,849.1 191.7,849.7 C192.5,850.3 193.1,851.2 193.7,852.3 C194.3,853.4 194.8,854.9 195.3,856.3 C195.8,857.7 196.3,859.9 196.8,860.9 C197.3,861.9 197.6,862 198.3,862 C199,862 200,860.8 200.9,860.9 C201.8,861 202.7,861.5 203.9,862.5 C205.1,863.5 206.6,865.1 208,866.6 C209.4,868.1 210.7,869.8 212.1,871.7 C213.5,873.6 214.8,875.9 216.2,877.8 C217.6,879.7 218.9,881.4 220.3,882.9 C221.7,884.4 222.8,885.4 224.4,886.5 C226,887.6 228.8,889 230,889.6 C231.2,890.2 229.7,890 231.6,890.1 C233.5,890.2 237.8,890.2 241.5,890.4 C245.3,890.5 249.8,890.6 253.9,890.9 C258.1,891.1 262,891.6 266.4,891.9 C270.7,892.1 271.1,892.4 280,892.6 C288.9,892.8 300,892.8 320,893 C340,893.2 370,893.5 400,893.6 C430,893.7 462,893.7 500,893.8 C538,893.9 606.7,894 628,894" stroke="#666666" stroke-width="1.8" fill="none"/>
<path d="M117.1,1310.7 C117.3,1307.2 118,1296.7 118.4,1289.6 C118.8,1282.6 119.4,1273 119.7,1268.6 C120.1,1264.2 120.1,1263.7 120.5,1263.4 C120.9,1263 121.4,1266.1 122.3,1266.5 C123.3,1267 125,1266.7 126.3,1266 C127.6,1265.2 128.9,1264.2 130.2,1262.1 C131.5,1259.9 132.8,1257.5 134.2,1252.9 C135.5,1248.3 137,1241.5 138.1,1234.5 C139.2,1227.5 139.9,1220 140.7,1210.8 C141.6,1201.6 142.5,1190.2 143.4,1179.3 C144.2,1168.3 145.2,1156.1 146,1145.1 C146.7,1134.2 147.2,1122.3 147.8,1113.6 C148.5,1104.8 149.3,1097.4 149.9,1092.6 C150.6,1087.7 151.1,1085.5 151.8,1084.7 C152.4,1083.8 153.2,1085.1 153.9,1087.3 C154.6,1089.5 155.2,1092.1 156,1097.8 C156.7,1103.5 157.6,1112.3 158.3,1121.5 C159.1,1130.7 159.7,1142 160.4,1153 C161.1,1163.9 161.9,1175.3 162.5,1187.2 C163.2,1199 163.7,1212.6 164.4,1223.9 C165,1235.3 165.7,1245.4 166.5,1255.5 C167.2,1265.6 168,1275.2 168.8,1284.4 C169.7,1293.6 170.5,1302.8 171.5,1310.7 C172.5,1318.6 173.7,1325.6 174.9,1331.7 C176.1,1337.8 177.5,1343.3 178.8,1347.5 C180.1,1351.6 181.5,1354.7 182.8,1356.7 C184.1,1358.6 185.2,1358.5 186.7,1359.3 C188.2,1360 190.2,1360.7 192,1361.1 C193.7,1361.6 195.5,1361.1 197.2,1361.9 C199,1362.7 200.7,1364.5 202.5,1365.9 C204.2,1367.2 206,1368.6 207.7,1369.8 C209.5,1371 211.2,1372.5 213,1373.2 C214.7,1374 216.5,1374.4 218.2,1374.3 C220,1374.1 221.8,1373.1 223.5,1372.4 C225.3,1371.8 227,1370.9 228.8,1370.3 C230.5,1369.8 232.3,1369.1 234,1369 C235.8,1368.9 237.5,1369.3 239.3,1369.8 C241,1370.3 242.8,1371 244.5,1371.9 C246.3,1372.8 248,1374.3 249.8,1375 C251.5,1375.8 253.3,1376.2 255,1376.4 C256.8,1376.5 258.5,1376.1 260.3,1375.8 C262,1375.5 264,1374.7 265.5,1374.5 C267.1,1374.4 268.2,1374.5 269.5,1375 C270.8,1375.6 272.3,1376.9 273.4,1377.7 C274.5,1378.4 274.4,1378.8 276.1,1379.6 C277.9,1380.5 281.5,1381.9 283.8,1382.7 C286.1,1383.5 288.1,1385 289.9,1384.2 C291.7,1383.5 293.4,1380.5 294.5,1378.1 C295.7,1375.7 296.2,1370.5 297,1369.8 C297.7,1369.2 298,1372.6 299.1,1374.1 C300.2,1375.6 301.9,1377.7 303.7,1379 C305.5,1380.3 307.6,1381.2 309.9,1382.1 C312.2,1383 315.2,1384.1 317.5,1384.2 C319.8,1384.3 321.4,1383.4 323.6,1382.7 C325.9,1382 329,1380.9 331.3,1380.2 C333.6,1379.6 335.1,1378.7 337.4,1378.7 C339.7,1378.7 342.6,1380 345.1,1380.2 C347.7,1380.5 350.5,1380.6 352.8,1380.2 C355.1,1379.9 356.9,1379.1 358.9,1378.1 C360.9,1377.1 363.2,1375.5 365,1374.1 C366.8,1372.7 367.8,1370.8 369.6,1369.8 C371.4,1368.8 373.7,1368 375.8,1368 C377.8,1368 379.6,1369.2 381.9,1369.8 C384.2,1370.5 387.3,1372.1 389.6,1372 C391.9,1371.8 393.9,1369.9 395.7,1368.9 C397.5,1367.9 398.8,1366.7 400.3,1365.8 C401.8,1365 403.4,1363.8 404.9,1363.7 C406.4,1363.5 408,1364.2 409.5,1364.9 C411,1365.6 412.6,1367.1 414.1,1368 C415.6,1368.9 417.2,1370 418.7,1370.4 C420.2,1370.8 421.8,1370.7 423.3,1370.4 C424.8,1370.2 426.8,1369.2 427.9,1368.9 C429,1368.6 429.3,1368 430,1368.9 C430.8,1369.8 431.6,1372.9 432.5,1374.1 C433.4,1375.3 434,1375.7 435.5,1376 C437.1,1376.2 439.6,1375.3 441.7,1375.3 C443.7,1375.3 445.8,1375.7 447.8,1376 C449.9,1376.2 451.9,1376.4 453.9,1376.6 C456,1376.8 458.3,1377.4 460.1,1377.2 C461.9,1376.9 463.9,1375.4 464.7,1375" stroke="#8a8a8a" stroke-width="1.8" fill="none" stroke-dasharray="5,4.4"/>
<path d="M116.6,1393.4 C116.9,1393.2 117.6,1392.1 118.4,1392.1 C119.1,1392.1 119.7,1393.4 121,1393.4 C122.3,1393.4 124.1,1392.9 126.3,1392.1 C128.5,1391.4 131.5,1390.2 134.2,1389 C136.8,1387.8 139.4,1386.3 142,1384.8 C144.7,1383.2 147.5,1381.3 149.9,1379.8 C152.3,1378.3 154.5,1377.4 156.5,1375.8 C158.5,1374.3 160,1372.6 161.8,1370.6 C163.5,1368.6 165.7,1365.6 167,1363.8 C168.3,1361.9 168.9,1358.9 169.6,1359.3 C170.4,1359.6 170.7,1363 171.5,1365.9 C172.2,1368.7 173.1,1373.7 174.1,1376.4 C175.1,1379 176.1,1380.1 177.5,1381.6 C179,1383.2 181.2,1384.5 182.8,1385.6 C184.3,1386.7 185.4,1387.3 186.7,1388.2 C188,1389.1 188.9,1390.4 190.7,1390.8 C192.4,1391.3 194.8,1390.6 197.2,1390.8 C199.6,1391 202,1391.7 205.1,1392.1 C208.2,1392.6 212.1,1393.2 215.6,1393.4 C219.1,1393.7 222.6,1393.3 226.1,1393.4 C229.6,1393.6 233.1,1394 236.6,1394.2 C240.1,1394.5 243.6,1394.7 247.2,1394.8 C250.7,1394.8 254.2,1394.7 257.7,1394.8 C261.2,1394.8 264.6,1395.1 268.2,1395.3 C271.8,1395.4 276.1,1395.5 279.2,1395.6 C282.3,1395.7 285.1,1396 286.9,1395.9 C288.6,1395.8 289.2,1395.9 289.9,1395 C290.7,1394 290.9,1390.4 291.5,1390.4 C292,1390.4 291.5,1394.2 293,1395 C294.5,1395.7 297.8,1394.9 300.7,1395 C303.5,1395 306.8,1395.2 309.9,1395.3 C312.9,1395.4 316.2,1395.6 319.1,1395.6 C321.9,1395.5 324.2,1395.2 326.7,1395 C329.3,1394.8 331.6,1394.5 334.4,1394.4 C337.2,1394.2 340.5,1394.2 343.6,1394 C346.6,1393.9 350,1394 352.8,1393.7 C355.6,1393.5 358.4,1392.9 360.4,1392.5 C362.5,1392.1 363.2,1391.4 365,1391.3 C366.8,1391.1 368.6,1391.5 371.2,1391.6 C373.7,1391.7 377.3,1391.8 380.4,1391.9 C383.4,1392 387,1392.3 389.6,1392.2 C392.1,1392.1 393.6,1391.6 395.7,1391.3 C397.7,1391 400,1390.7 401.8,1390.4 C403.6,1390.1 404.6,1389.5 406.4,1389.4 C408.2,1389.4 410.3,1389.9 412.6,1390.1 C414.9,1390.2 417.7,1390.2 420.2,1390.4 C422.8,1390.6 425.8,1390.8 427.9,1391.3 C429.9,1391.8 430.2,1393.1 432.5,1393.4 C434.8,1393.8 438.1,1393.5 441.7,1393.4 C445.3,1393.3 450.1,1393 453.9,1392.8 C457.8,1392.7 462.9,1392.6 464.7,1392.5" stroke="#111111" stroke-width="1.8" fill="none" stroke-dasharray="5.2,4.3,1.1,4.3"/>
</svg>
</body></html>
